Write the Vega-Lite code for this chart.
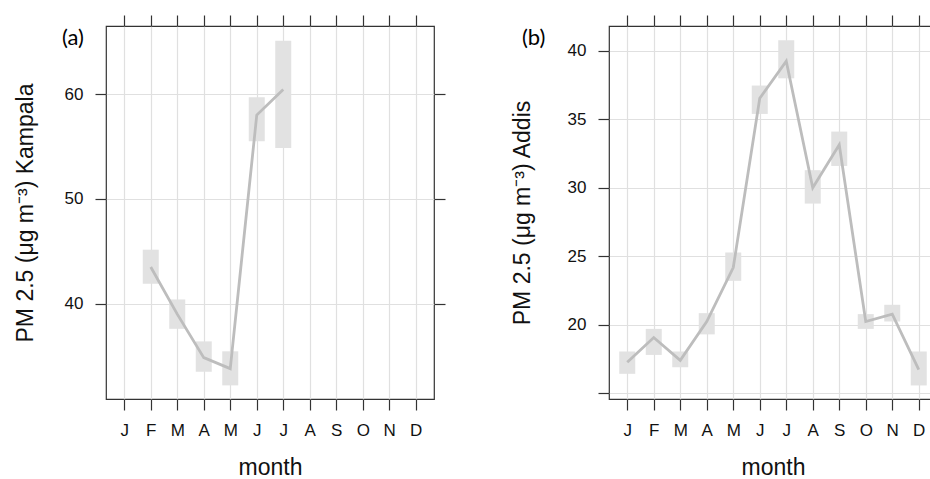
{
  "$schema": "https://vega.github.io/schema/vega-lite/v6.json",
  "padding": {"left": 13, "top": 13, "right": 0, "bottom": 0},
  "background": "white",
  "datasets": {
    "kampala": [
      {"month": 2, "pm": 43.5, "lo": 41.9, "hi": 45.15},
      {"month": 3, "pm": 39.0, "lo": 37.6, "hi": 40.4},
      {"month": 4, "pm": 34.85, "lo": 33.5, "hi": 36.4},
      {"month": 5, "pm": 33.8, "lo": 32.2, "hi": 35.45},
      {"month": 6, "pm": 58.0, "lo": 55.5, "hi": 59.7},
      {"month": 7, "pm": 60.45, "lo": 54.85, "hi": 65.1}
    ],
    "addis": [
      {"month": 1, "pm": 17.27, "lo": 16.42, "hi": 18.05},
      {"month": 2, "pm": 19.07, "lo": 17.8, "hi": 19.7},
      {"month": 3, "pm": 17.4, "lo": 16.9, "hi": 18.05},
      {"month": 4, "pm": 20.24, "lo": 19.3, "hi": 20.85},
      {"month": 5, "pm": 24.18, "lo": 23.21, "hi": 25.28},
      {"month": 6, "pm": 36.54, "lo": 35.4, "hi": 37.47},
      {"month": 7, "pm": 39.25, "lo": 38.0, "hi": 40.78},
      {"month": 8, "pm": 30.0, "lo": 28.85, "hi": 31.29},
      {"month": 9, "pm": 33.14, "lo": 31.6, "hi": 34.11},
      {"month": 10, "pm": 20.24, "lo": 19.7, "hi": 20.78},
      {"month": 11, "pm": 20.78, "lo": 20.24, "hi": 21.46},
      {"month": 12, "pm": 16.72, "lo": 15.57, "hi": 18.05}
    ]
  },
  "config": {
    "font": "Liberation Sans",
    "view": {"stroke": "#333333", "strokeWidth": 1.2},
    "axis": {
      "domain": false,
      "tickColor": "#333333",
      "tickSize": 11,
      "tickWidth": 1.2,
      "labelFontSize": 17,
      "labelColor": "#111111",
      "labelPadding": 12,
      "titleFontSize": 23,
      "titleFontWeight": "normal",
      "titleColor": "#111111",
      "gridColor": "#e0e0e0",
      "gridWidth": 1.2
    },
    "concat": {"spacing": 63}
  },
  "hconcat": [
    {
      "width": 328,
      "height": 373,
      "data": {"name": "kampala"},
      "title": {"text": "(a)", "anchor": "start", "frame": "group", "orient": "top", "offset": 0, "dx": -44, "dy": 36, "fontSize": 22, "fontWeight": "normal", "font": "Lato", "color": "#000000"},
      "resolve": {"axis": {"x": "independent", "y": "independent"}},
      "layer": [
        {
          "mark": {"type": "bar", "width": 16, "color": "#e2e2e2"},
          "encoding": {
            "x": {"field": "month", "type": "quantitative",
              "scale": {"domain": [0.5, 12.5], "nice": false, "zero": false},
              "axis": {"orient": "bottom", "values": [1,2,3,4,5,6,7,8,9,10,11,12], "grid": true, "title": "month", "titlePadding": 18,
                "labelExpr": "['J','F','M','A','M','J','J','A','S','O','N','D'][datum.value-1]"}},
            "y": {"field": "lo", "type": "quantitative",
              "scale": {"domain": [30.9, 66.5], "nice": false, "zero": false},
              "axis": {"orient": "left", "values": [40, 50, 60], "grid": true, "title": "PM 2.5 (μg m⁻³) Kampala", "titlePadding": 27}},
            "y2": {"field": "hi"}
          }
        },
        {
          "mark": {"type": "line", "color": "#bdbdbd", "strokeWidth": 2.8},
          "encoding": {
            "x": {"field": "month", "type": "quantitative",
              "axis": {"orient": "top", "values": [1,2,3,4,5,6,7,8,9,10,11,12], "labels": false, "grid": false, "title": null}},
            "y": {"field": "pm", "type": "quantitative",
              "axis": {"orient": "right", "values": [40, 50, 60], "labels": false, "grid": false, "title": null}}
          }
        }
      ]
    },
    {
      "width": 328,
      "height": 373,
      "data": {"name": "addis"},
      "title": {"text": "(b)", "anchor": "start", "frame": "group", "orient": "top", "offset": 0, "dx": -87, "dy": 36, "fontSize": 22, "fontWeight": "normal", "font": "Lato", "color": "#000000"},
      "resolve": {"axis": {"x": "independent", "y": "independent"}},
      "layer": [
        {
          "mark": {"type": "bar", "width": 16, "color": "#e2e2e2"},
          "encoding": {
            "x": {"field": "month", "type": "quantitative",
              "scale": {"domain": [0.5, 12.5], "nice": false, "zero": false},
              "axis": {"orient": "bottom", "values": [1,2,3,4,5,6,7,8,9,10,11,12], "grid": true, "title": "month", "titlePadding": 18,
                "labelExpr": "['J','F','M','A','M','J','J','A','S','O','N','D'][datum.value-1]"}},
            "y": {"field": "lo", "type": "quantitative",
              "scale": {"domain": [14.58, 41.82], "nice": false, "zero": false},
              "axis": {"orient": "left", "values": [15, 20, 25, 30, 35, 40], "grid": true, "title": "PM 2.5 (μg m⁻³) Addis", "titlePadding": 33,
                "labelExpr": "datum.value == 15 ? '' : datum.label"}},
            "y2": {"field": "hi"}
          }
        },
        {
          "mark": {"type": "line", "color": "#bdbdbd", "strokeWidth": 2.8},
          "encoding": {
            "x": {"field": "month", "type": "quantitative",
              "axis": {"orient": "top", "values": [1,2,3,4,5,6,7,8,9,10,11,12], "labels": false, "grid": false, "title": null}},
            "y": {"field": "pm", "type": "quantitative", "axis": null}
          }
        }
      ]
    }
  ]
}
